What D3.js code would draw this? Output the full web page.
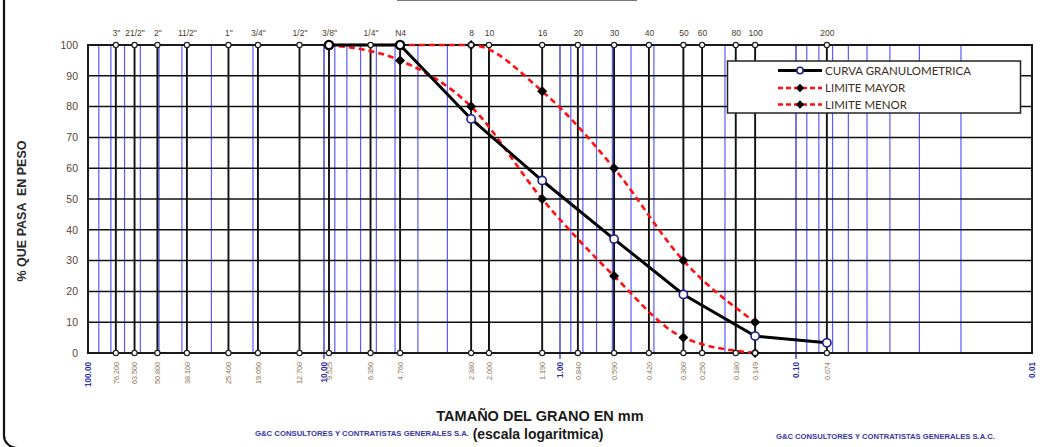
<!DOCTYPE html>
<html>
<head>
<meta charset="utf-8">
<script src="https://cdn.jsdelivr.net/npm/d3@7"></script>
<style>
  body { margin: 0; background: #fff; }
  svg { display: block; font-family: "Liberation Sans", Arial, sans-serif; }
</style>
</head>
<body>
<svg id="chart" width="1054" height="447"></svg>
<script>
// Sieve series (ASTM) and their openings in mm
const sieveNames = ['3"', '21/2"', '2"', '11/2"', '1"', '3/4"', '1/2"', '3/8"', '1/4"', 'N4',
                    '8', '10', '16', '20', '30', '40', '50', '60', '80', '100', '200'];
const sieveSizes = [76.2, 63.5, 50.8, 38.1, 25.4, 19.05, 12.7, 9.525, 6.35, 4.76,
                    2.38, 2.0, 1.19, 0.84, 0.59, 0.42, 0.30, 0.25, 0.18, 0.149, 0.074];

// Grading curve of the sample (% passing)
const curveSizes   = [9.525, 4.76, 2.38, 1.19, 0.59, 0.30, 0.149, 0.074];
const curvePassing = [100, 100, 76, 56, 37, 19, 5.5, 3.3];

// Specification band
const limitSizes = [9.525, 4.76, 2.38, 1.19, 0.59, 0.30, 0.149];
const upperLimit = [100, 100, 100, 85, 60, 30, 10];
const lowerLimit = [100, 95, 80, 50, 25, 5, 0];

// Axis ticks
const decadeTicks  = [100, 10, 1, 0.1, 0.01];
const percentTicks = [0, 10, 20, 30, 40, 50, 60, 70, 80, 90, 100];

const svg = d3.select('#chart');
const pLeft = 88, pRight = 1032, pTop = 45, pBottom = 353;

const x = d3.scaleLog().domain([100, 0.01]).range([pLeft, pRight]);
const y = d3.scaleLinear().domain([0, 100]).range([pBottom, pTop]);

// page frame on the left with rounded lower corner
svg.append('path')
  .attr('d', 'M4,0 V434 A13,13 0 0 0 17,448')
  .attr('fill', 'none').attr('stroke', '#111').attr('stroke-width', 2.2);
// title box edge at the very top
svg.append('line').attr('x1', 397).attr('x2', 637).attr('y1', 0.5).attr('y2', 0.5)
  .attr('stroke', '#777').attr('stroke-width', 1.2);

const grid = svg.append('g');

// logarithmic minor grid (blue)
const minor = x.ticks().filter(v => !decadeTicks.some(d => Math.abs(d - v) < 1e-9));
grid.selectAll('line.minor').data(minor).join('line')
  .attr('class', 'minor')
  .attr('x1', d => x(d)).attr('x2', d => x(d))
  .attr('y1', pTop).attr('y2', pBottom)
  .attr('stroke', '#3232ff').attr('stroke-opacity', 0.8).attr('stroke-width', 1.2);

// decade lines
grid.selectAll('line.decade').data(decadeTicks.slice(1, 4)).join('line')
  .attr('class', 'decade')
  .attr('x1', d => x(d)).attr('x2', d => x(d))
  .attr('y1', pTop).attr('y2', pBottom + 6)
  .attr('stroke', '#2a2ad0').attr('stroke-width', 1.3);

// horizontal grid every 10 %
grid.selectAll('line.h').data(percentTicks).join('line')
  .attr('class', 'h')
  .attr('x1', pLeft).attr('x2', pRight)
  .attr('y1', d => y(d)).attr('y2', d => y(d))
  .attr('stroke', '#111').attr('stroke-width', 1.5);

// sieve lines
grid.selectAll('line.sieve').data(sieveSizes).join('line')
  .attr('class', 'sieve')
  .attr('x1', d => x(d)).attr('x2', d => x(d))
  .attr('y1', pTop).attr('y2', pBottom)
  .attr('stroke', '#111').attr('stroke-width', 1.9);

// plot frame
svg.append('rect')
  .attr('x', pLeft).attr('y', pTop).attr('width', pRight - pLeft).attr('height', pBottom - pTop)
  .attr('fill', 'none').attr('stroke', '#1a1a1a').attr('stroke-width', 2);

// Y axis
const yAxis = svg.append('g')
  .attr('transform', `translate(${pLeft - 8},0)`)
  .call(d3.axisLeft(y).tickValues(percentTicks).tickSize(0).tickPadding(2).tickFormat(d3.format('d')));
yAxis.select('.domain').remove();
yAxis.selectAll('text').attr('font-size', 10.5).attr('fill', '#5a4630')
  .attr('font-family', '"Liberation Sans", Arial, sans-serif');

// sieve names along the top
const topAxis = svg.append('g')
  .attr('transform', `translate(0,${pTop - 9})`)
  .call(d3.axisTop(x).tickValues(sieveSizes).tickSize(0).tickPadding(0)
        .tickFormat((d, i) => sieveNames[i]));
topAxis.select('.domain').remove();
topAxis.selectAll('text').attr('font-size', 8.5).attr('fill', '#4a3c2c')
  .attr('font-family', '"Liberation Sans", Arial, sans-serif');

// sieve openings along the bottom
const botAxis = svg.append('g')
  .attr('transform', `translate(0,${pBottom})`)
  .call(d3.axisBottom(x).tickValues(sieveSizes).tickSize(0).tickFormat(d3.format('.3f')));
botAxis.select('.domain').remove();
botAxis.selectAll('text')
  .attr('transform', 'rotate(-90)')
  .attr('x', -9).attr('y', 0).attr('dy', '0.32em')
  .attr('text-anchor', 'end')
  .attr('font-size', 7.2).attr('fill', '#8a7050')
  .attr('font-family', '"Liberation Sans", Arial, sans-serif');

// decade values
const decAxis = svg.append('g')
  .attr('transform', `translate(0,${pBottom})`)
  .call(d3.axisBottom(x).tickValues(decadeTicks).tickSize(0).tickFormat(d3.format('.2f')));
decAxis.select('.domain').remove();
decAxis.selectAll('text')
  .attr('transform', 'rotate(-90)')
  .attr('x', -9).attr('y', 0).attr('dy', '0.35em')
  .attr('text-anchor', 'end')
  .attr('font-size', 8.2).attr('font-weight', 'bold').attr('fill', '#2e2ea8')
  .attr('font-family', '"Liberation Sans", Arial, sans-serif');

// sieve markers top and bottom
const ends = [];
sieveSizes.forEach(s => { ends.push([s, 100]); ends.push([s, 0]); });

// specification limits (smoothed, dashed red)
const smooth = d3.line().x(d => x(d[0])).y(d => y(d[1])).curve(d3.curveMonotoneX);
const upperPts = limitSizes.map((s, i) => [s, upperLimit[i]]);
const lowerPts = limitSizes.map((s, i) => [s, lowerLimit[i]]);
[upperPts, lowerPts].forEach(pts => {
  svg.append('path').attr('d', smooth(pts))
    .attr('fill', 'none').attr('stroke', '#ff1010').attr('stroke-width', 2.6)
    .attr('stroke-dasharray', '6,4');
});

// sample curve
const straight = d3.line().x(d => x(d[0])).y(d => y(d[1]));
const curvePts = curveSizes.map((s, i) => [s, curvePassing[i]]);
svg.append('path').attr('d', straight(curvePts))
  .attr('fill', 'none').attr('stroke', '#000').attr('stroke-width', 3);

// limit markers
const diamond = d3.symbol().type(d3.symbolDiamond2).size(64);
svg.append('g').selectAll('path').data(upperPts.concat(lowerPts)).join('path')
  .attr('transform', d => `translate(${x(d[0])},${y(d[1])})`)
  .attr('d', diamond).attr('fill', '#000');

// sieve end markers
svg.append('g').selectAll('circle').data(ends).join('circle')
  .attr('cx', d => x(d[0])).attr('cy', d => y(d[1])).attr('r', 2.6)
  .attr('fill', '#fff').attr('stroke', '#222').attr('stroke-width', 1.2);

// sample markers
svg.append('g').selectAll('circle').data(curvePts).join('circle')
  .attr('cx', d => x(d[0])).attr('cy', d => y(d[1])).attr('r', 4.1)
  .attr('fill', '#fff')
  .attr('stroke', d => d[1] >= 100 ? '#000' : '#1c1c8c')
  .attr('stroke-width', d => d[1] >= 100 ? 2.4 : 1.6);

// legend
const lg = svg.append('g');
lg.append('rect').attr('x', 727.5).attr('y', 61).attr('width', 293).attr('height', 52)
  .attr('fill', '#fff').attr('stroke', '#222').attr('stroke-width', 1.5);
const legendItems = [
  { label: 'CURVA GRANULOMETRICA', kind: 'curve', yy: 70.5 },
  { label: 'LIMITE MAYOR', kind: 'limit', yy: 88 },
  { label: 'LIMITE MENOR', kind: 'limit', yy: 104.5 }
];
legendItems.forEach(it => {
  const g = lg.append('g');
  if (it.kind === 'curve') {
    g.append('line').attr('x1', 778).attr('x2', 822).attr('y1', it.yy).attr('y2', it.yy)
      .attr('stroke', '#000').attr('stroke-width', 3);
    g.append('circle').attr('cx', 800).attr('cy', it.yy).attr('r', 3.2)
      .attr('fill', '#fff').attr('stroke', '#1c1c8c').attr('stroke-width', 1.6);
  } else {
    g.append('line').attr('x1', 778).attr('x2', 822).attr('y1', it.yy).attr('y2', it.yy)
      .attr('stroke', '#ff1010').attr('stroke-width', 2.4).attr('stroke-dasharray', '5,3');
    g.append('path').attr('transform', `translate(800,${it.yy})`)
      .attr('d', d3.symbol().type(d3.symbolDiamond2).size(44)).attr('fill', '#000');
  }
  g.append('text').attr('x', 825).attr('y', it.yy).attr('dy', '0.36em')
    .attr('font-family', 'Lato, "Open Sans", sans-serif').attr('font-size', 11.5)
    .attr('fill', '#3a2e22').text(it.label);
});

// axis titles
svg.append('text')
  .attr('transform', 'translate(26,211) rotate(-90)')
  .attr('text-anchor', 'middle')
  .attr('font-size', 12.5).attr('font-weight', 'bold').attr('fill', '#2a2a2a')
  .style('white-space', 'pre')
  .text('% QUE PASA  EN PESO');

svg.append('text')
  .attr('x', 540).attr('y', 421).attr('text-anchor', 'middle')
  .attr('font-size', 14.5).attr('font-weight', 'bold').attr('fill', '#1a1a1a')
  .text('TAMAÑO DEL GRANO EN mm');
svg.append('text')
  .attr('x', 538).attr('y', 439).attr('text-anchor', 'middle')
  .attr('font-size', 14).attr('font-weight', 'bold').attr('fill', '#1a1a1a')
  .text('(escala logaritmica)');

// company stamps
svg.append('text')
  .attr('x', 255).attr('y', 436).attr('textLength', 214).attr('lengthAdjust', 'spacingAndGlyphs')
  .attr('font-size', 7.5).attr('font-weight', 'bold').attr('fill', '#3535a8')
  .text('G&C CONSULTORES Y CONTRATISTAS GENERALES S.A.');
svg.append('text')
  .attr('x', 776).attr('y', 439).attr('textLength', 219).attr('lengthAdjust', 'spacingAndGlyphs')
  .attr('font-size', 7.5).attr('font-weight', 'bold').attr('fill', '#3535a8')
  .text('G&C CONSULTORES Y CONTRATISTAS GENERALES S.A.C.');
</script>
</body>
</html>
